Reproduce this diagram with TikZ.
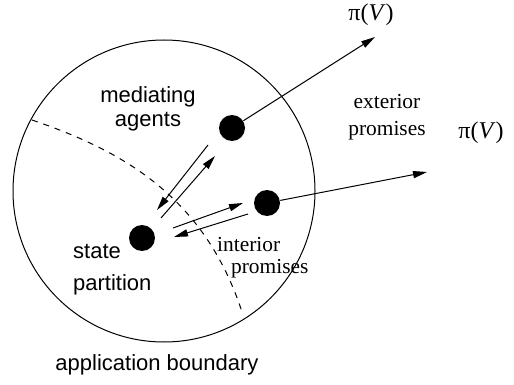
\documentclass[tikz,border=0pt]{standalone}
\usepackage{fontspec}
\setmainfont{Liberation Serif}
\setsansfont{Liberation Sans}
\usetikzlibrary{arrows.meta}
\tikzset {>={Triangle[length=7pt,width=3.6pt]}}
\tikzset{dot/.style={circle,fill,inner sep=0pt,minimum size=13pt},
  sanslabel/.style={font=\sffamily\fontsize{11}{12}\selectfont,align=center},
  seriflabel/.style={font=\fontsize{10.7}{13.5}\selectfont,align=center}}

\begin{document}
\begin{tikzpicture}[x=0.5pt,y=-0.5pt,line width=0.5pt]
\useasboundingbox (0,0) rectangle (514,385);
\draw (164,191) circle[radius=75.5pt];
\draw[dashed] (32,120) .. controls (120,150) and (205,195) .. (243,315);
\node[dot] (agent) at (232,128) {};
\node[dot] (state) at (142,238) {};
\node[dot] (relay) at (267,203) {};
\coordinate (piA) at (375,37);
\coordinate (piB) at (427,172);
\draw[->] (agent) -- (piA);
\draw[->] (relay) -- (piB);
\coordinate (a1) at (208,145);
\coordinate (a2) at (157,210);
\coordinate (a3) at (161,218);
\coordinate (a4) at (215,156);
\draw[->] (a1) -- (a2);
\draw[->] (a3) -- (a4);
\coordinate (r1) at (173,228);
\coordinate (r2) at (243,203);
\coordinate (r3) at (248,214);
\coordinate (r4) at (174,237);
\draw[->] (r1) -- (r2);
\draw[->] (r3) -- (r4);
\node[sanslabel] (agentlbl) at (148,109) {mediating\\agents};
\node[sanslabel,align=left,anchor=west,font=\sffamily\fontsize{11}{16}\selectfont] (statelbl) at (66,270) {state\\partition};
\node[sanslabel] (applbl) at (157,365) {application boundary};
\node[seriflabel] (extlbl) at (387,117) {exterior\\promises};
\node[seriflabel,align=left,anchor=west,font=\fontsize{10.7}{11}\selectfont] (intlbl) at (210,258) {interior\\\hspace*{7pt}promises};
\node[font=\fontsize{12}{14}\selectfont] (piAlbl) at (371,15) {π(\textit{V})};
\node[font=\fontsize{12}{14}\selectfont] (piBlbl) at (481,133) {π(\textit{V})};
\end{tikzpicture}
\end{document}
